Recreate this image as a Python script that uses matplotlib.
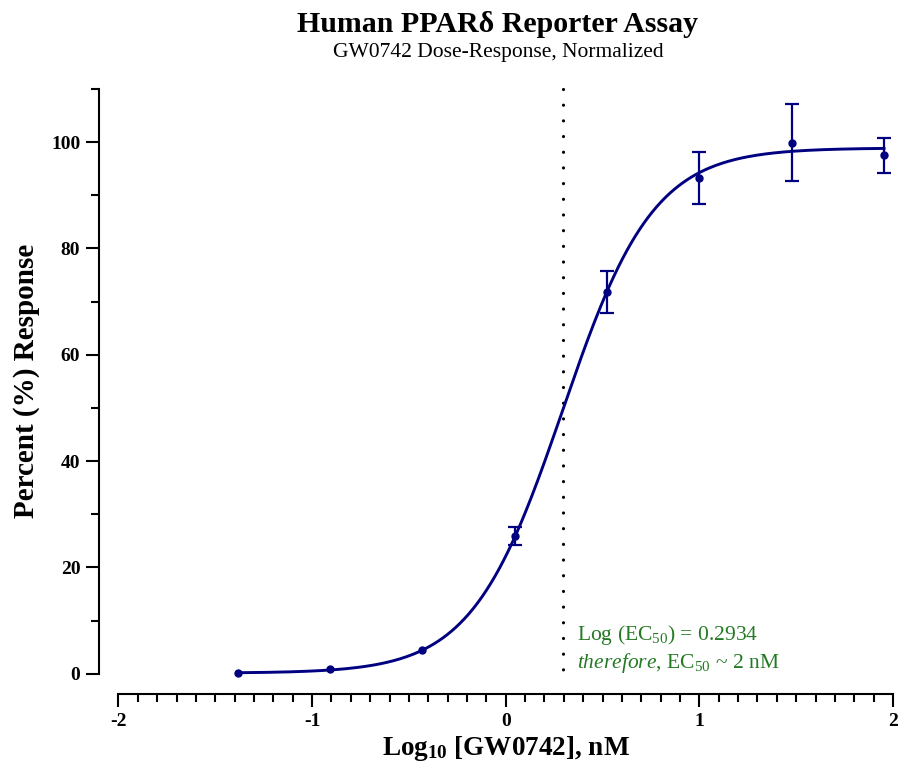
import numpy as np
import matplotlib
matplotlib.use("Agg")
import matplotlib.pyplot as plt

plt.rcParams["font.family"] = ["Liberation Serif", "DejaVu Serif"]
plt.rcParams["mathtext.fontset"] = "custom"
plt.rcParams["mathtext.rm"] = "Liberation Serif"
plt.rcParams["mathtext.it"] = "Liberation Serif:italic"
plt.rcParams["mathtext.bf"] = "Liberation Serif:bold"

# measured points (log10 nM) and mean / error of % response
log_conc = [-1.385, -0.908, -0.431, 0.046, 0.523, 1.000, 1.477, 1.954]
response = [0.2, 0.8, 4.5, 25.9, 71.8, 93.3, 99.9, 97.5]
response_err = [0.0, 0.0, 0.0, 1.6, 4.0, 4.85, 7.3, 3.25]

# fitted 4PL parameters
fit_bottom = 0.1
fit_top = 98.9
log_ec50 = 0.2934
hill_slope = 1.85

x_ticks = [-2, -1, 0, 1, 2]
y_ticks = [0, 20, 40, 60, 80, 100]

navy = "#000080"
green = "#237a23"

fig = plt.figure(figsize=(9.03, 7.73), dpi=100)
ax = fig.add_axes([0.1312, 0.1285, 0.8577, 0.7564])

xs = np.linspace(log_conc[0], log_conc[-1], 300)
curve = fit_bottom + (fit_top - fit_bottom) / (1 + 10 ** ((log_ec50 - xs) * hill_slope))
ax.plot(xs, curve, color=navy, lw=2.1, clip_on=False, zorder=3)

x = np.array(log_conc)
y = np.array(response)
err = np.array(response_err)
has_err = err > 0
ax.errorbar(x[has_err], y[has_err], yerr=err[has_err], fmt="none", ecolor=navy,
            elinewidth=1.6, capsize=5, capthick=1.6, clip_on=False, zorder=4)
ax.plot(x, y, "o", color=navy, ms=5, clip_on=False, zorder=5)

# EC50 marker line
ax.plot([log_ec50, log_ec50], [110, -2.2], color="black", lw=2.3,
        linestyle=(0, (0.01, 4.9)), dash_capstyle="round", clip_on=False, zorder=2)

ax.text(0.37, 6.3, r"Log (EC$_{50}$) = 0.2934", color=green, fontsize=15.5)
ax.text(0.37, 1.1, r"$\it{therefore}$, EC$_{50}$ ~ 2 nM", color=green, fontsize=15.5)

ax.set_xlim(-2, 2)
ax.set_ylim(0, 110)
for side in ["top", "right"]:
    ax.spines[side].set_visible(False)
ax.spines["left"].set_position(("outward", 14))
ax.spines["bottom"].set_position(("outward", 14.5))
ax.spines["left"].set_bounds(0, 110)
ax.spines["bottom"].set_bounds(-2, 2)
for side in ["left", "bottom"]:
    ax.spines[side].set_linewidth(1.5)

ax.set_xticks(x_ticks)
ax.set_xticklabels([str(t) for t in x_ticks], fontweight="bold")
ax.set_xticks(np.arange(-20, 21) / 10, minor=True)
ax.set_yticks(y_ticks)
ax.set_yticklabels([str(t) for t in y_ticks], fontweight="bold")
ax.set_yticks([10, 30, 50, 70, 90, 110], minor=True)
ax.tick_params(which="major", length=9.5, width=1.5, labelsize=14, pad=4)
ax.tick_params(which="minor", length=6, width=1.5)

ax.set_xlabel(r"Log$_{\mathbf{10}}$ [GW0742], nM", fontsize=19.5, fontweight="bold", labelpad=3)
ax.set_ylabel("Percent (%) Response", fontsize=21, fontweight="bold", labelpad=8)

# titles are centred over the plotting area
cx = 498 / 903
fig.text(cx, 1 - 32 / 773, "Human PPARδ Reporter Assay", ha="center", va="baseline",
         fontsize=21.5, fontweight="bold")
fig.text(cx, 1 - 57 / 773, "GW0742 Dose-Response, Normalized", ha="center", va="baseline",
         fontsize=15.5)

fig.savefig("out.png", dpi=100)
